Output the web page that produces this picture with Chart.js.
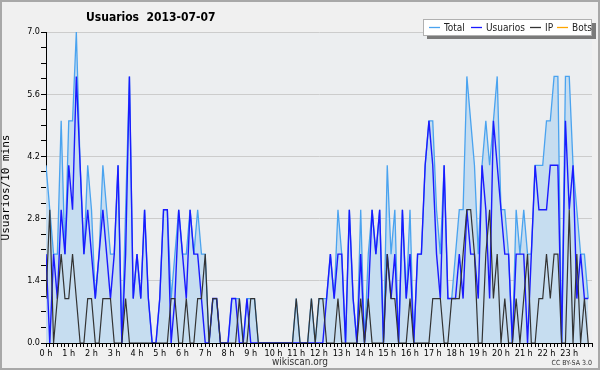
<!DOCTYPE html>
<html>
<head>
<meta charset="utf-8">
<script src="https://cdn.jsdelivr.net/npm/chart.js@4.4.0/dist/chart.umd.min.js"></script>
<style>
html, body { margin: 0; padding: 0; background: #f0f0f0; }
canvas { display: block; }
</style>
</head>
<body>
<canvas id="chartUsuarios" width="600" height="370"></canvas>
<script>
// Usuarios activos cada 10 minutos, 2013-07-07 (144 intervalos)
var horas = ['0 h','1 h','2 h','3 h','4 h','5 h','6 h','7 h','8 h','9 h','10 h','11 h',
             '12 h','13 h','14 h','15 h','16 h','17 h','18 h','19 h','20 h','21 h','22 h','23 h'];

var total = [4,3,2,2,5,2,5,5,7,4,2,4,3,1,2,4,3,2,2,4,0,3,6,1,
             2,1,3,1,0,0,1,3,3,1,2,3,2,2,3,2,3,2,2,0,1,1,0,0,
             0,1,1,1,0,1,1,1,0,0,0,0,0,0,0,0,0,0,1,0,0,0,1,0,
             1,1,1,2,1,3,2,0,3,1,0,3,0,2,3,2,3,0,4,2,3,0,3,1,
             3,0,2,2,4,5,5,3,2,4,1,1,2,3,3,6,5,4,2,4,5,4,5,6,
             3,3,2,0,3,2,3,2,2,4,4,4,5,5,6,6,0,6,6,4,3,2,2,1];

var usuarios = [2,0,2,1,3,2,4,3,6,4,2,3,2,1,2,3,2,1,2,4,0,2,6,1,
                2,1,3,1,0,0,1,3,3,0,1,3,2,1,3,2,2,1,0,0,1,1,0,0,
                0,1,1,0,0,1,0,0,0,0,0,0,0,0,0,0,0,0,0,0,0,0,0,0,
                0,0,1,2,1,2,2,0,3,1,0,2,0,1,3,2,3,0,2,1,2,0,3,1,
                2,0,2,2,4,5,4,2,1,4,1,1,1,2,1,3,2,2,1,4,3,1,5,4,
                3,2,2,0,2,2,2,0,2,4,3,3,3,4,4,4,0,5,3,4,1,2,1,1];

var ip = [1,3,0,1,2,1,1,2,1,0,0,1,1,0,0,1,1,1,0,0,0,1,0,0,
          0,0,0,0,0,0,0,0,0,1,1,0,0,1,0,0,1,1,2,0,1,1,0,0,
          0,0,0,1,0,0,1,1,0,0,0,0,0,0,0,0,0,0,1,0,0,0,1,0,
          1,1,0,0,0,1,0,0,0,0,0,1,0,1,0,0,0,0,2,1,1,0,0,0,
          1,0,0,0,0,0,1,1,1,0,0,1,1,1,2,3,3,2,0,0,2,3,1,2,
          0,1,0,0,1,0,1,2,0,0,1,1,2,1,2,2,0,0,3,0,2,0,1,0];

var bots = [];

var yMax = 7;
var yPaso = 0.35;

function esPrincipal(v) {
    var r = v / 1.4;
    return Math.abs(r - Math.round(r)) < 1e-6;
}

function puntos(serie) {
    return serie.map(function(v, i) { return { x: i, y: v }; });
}

var FUENTE = '"DejaVu Sans Condensed", "DejaVu Sans", sans-serif';

// fondo, titulo, leyenda y pie
var decorado = {
    id: 'decorado',
    beforeDraw: function(chart) {
        var c = chart.ctx, a = chart.chartArea;
        c.save();
        c.fillStyle = '#f0f0f0';
        c.fillRect(0, 0, chart.width, chart.height);
        c.strokeStyle = '#a8a8a8';
        c.lineWidth = 2;
        c.strokeRect(1, 1, chart.width - 2, chart.height - 2);
        c.fillStyle = '#eceef0';
        c.fillRect(a.left, a.top, a.right - a.left, a.bottom - a.top);
        c.restore();
    },
    afterDraw: function(chart) {
        var c = chart.ctx;
        c.save();
        c.fillStyle = '#000';
        c.textBaseline = 'middle';
        c.font = 'bold 12px ' + FUENTE;
        c.fillText('Usuarios  2013-07-07', 86, 18);

        // leyenda
        c.fillStyle = '#7a7a7a';
        c.fillRect(427, 23, 169, 16);
        c.fillStyle = '#ffffff';
        c.fillRect(423, 19, 169, 17);
        c.strokeStyle = '#b0b0b0';
        c.lineWidth = 1;
        c.strokeRect(423.5, 19.5, 168, 16);
        var items = [['Total', '#4aa3ef', 429], ['Usuarios', '#1a1aff', 471],
                     ['IP', '#333333', 530], ['Bots', '#ffa500', 557]];
        c.font = '10px ' + FUENTE;
        items.forEach(function(it) {
            var x = it[2];
            c.strokeStyle = it[1];
            c.lineWidth = 1.3;
            c.beginPath();
            c.moveTo(x, 27.5);
            c.lineTo(x + 11, 27.5);
            c.stroke();
            c.fillStyle = '#222';
            c.fillText(it[0], x + 15, 28);
        });

        c.fillStyle = '#333';
        c.textAlign = 'center';
        c.font = '10px ' + FUENTE;
        c.fillText('wikiscan.org', 300, 362);
        c.textAlign = 'right';
        c.font = '7px ' + FUENTE;
        c.fillText('CC BY-SA 3.0', 592, 363);
        c.restore();
    }
};

const ctx = document.getElementById('chartUsuarios').getContext('2d');
new Chart(ctx, {
    type: 'line',
    data: {
        datasets: [{
            label: 'Total',
            data: puntos(total),
            borderColor: '#4aa3ef',
            backgroundColor: '#c6ddf0',
            borderWidth: 1.3,
            fill: 'origin',
            order: 3
        }, {
            label: 'Usuarios',
            data: puntos(usuarios),
            borderColor: '#1a1aff',
            borderWidth: 1.4,
            fill: false,
            order: 2
        }, {
            label: 'IP',
            data: puntos(ip),
            borderColor: '#333333',
            borderWidth: 1.2,
            fill: false,
            order: 1
        }, {
            label: 'Bots',
            data: puntos(bots),
            borderColor: '#ffa500',
            borderWidth: 1.2,
            fill: false,
            order: 0
        }]
    },
    options: {
        responsive: false,
        animation: false,
        devicePixelRatio: 1,
        elements: { point: { radius: 0 }, line: { tension: 0 } },
        layout: { padding: { top: 32, right: 8, left: 0, bottom: 0 } },
        plugins: {
            legend: { display: false },
            title: { display: false },
            tooltip: { enabled: false }
        },
        scales: {
            x: {
                type: 'linear',
                min: 0,
                max: 144,
                afterFit: function(scale) { scale.height = 27; },
                border: { color: '#000', width: 1 },
                grid: { drawOnChartArea: false, color: '#000', tickLength: 4 },
                ticks: {
                    stepSize: 1,
                    autoSkip: false,
                    maxRotation: 0,
                    padding: 1,
                    color: '#000',
                    font: { family: FUENTE, size: 9 },
                    callback: function(v) {
                        return (v % 6 === 0 && v < 144) ? horas[v / 6] : '';
                    }
                }
            },
            y: {
                min: 0,
                max: yMax,
                afterFit: function(scale) { scale.width = 46; },
                border: { color: '#000', width: 1 },
                grid: {
                    color: function(c) { return esPrincipal(c.tick.value) ? '#cccccc' : 'rgba(0,0,0,0)'; },
                    tickColor: '#000',
                    tickLength: 5
                },
                title: {
                    display: true,
                    text: 'Usuarios/10 mins',
                    color: '#000',
                    padding: 0,
                    font: { family: '"DejaVu Sans Mono", monospace', size: 11 }
                },
                ticks: {
                    stepSize: yPaso,
                    autoSkip: false,
                    padding: 1,
                    color: '#000',
                    font: { family: FUENTE, size: 9 },
                    callback: function(v) { return esPrincipal(v) ? v.toFixed(1) : ''; }
                }
            }
        }
    },
    plugins: [decorado]
});
</script>
</body>
</html>
